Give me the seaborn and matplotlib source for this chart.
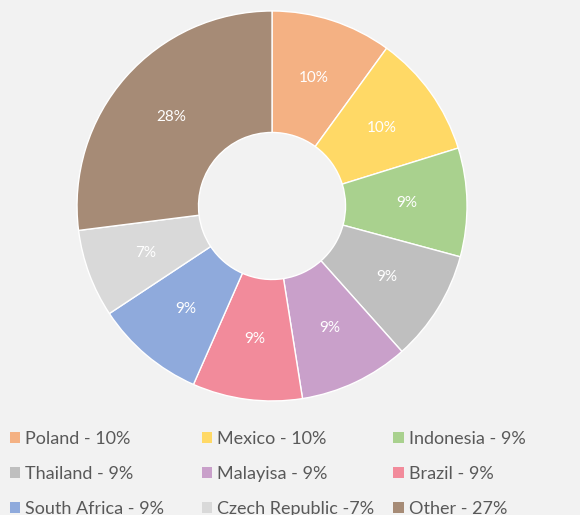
import matplotlib.pyplot as plt
import seaborn as sns
from matplotlib.patches import Patch

# udeli po zemljama (procenti)
zemlje = ["Poland", "Mexico", "Indonesia", "Thailand", "Malayisa", "Brazil",
          "South Africa", "Czech Republic", "Other"]
udeli = [10.0, 10.2, 9.0, 9.2, 9.1, 9.1, 9.1, 7.3, 27.0]
oznake = ["10%", "10%", "9%", "9%", "9%", "9%", "9%", "7%", "28%"]
legenda_tekst = ["Poland - 10%", "Mexico - 10%", "Indonesia - 9%",
                 "Thailand - 9%", "Malayisa - 9%", "Brazil - 9%",
                 "South Africa - 9%", "Czech Republic -7%", "Other - 27%"]
boje = ["#F4B183", "#FFD966", "#A9D18E", "#BFBFBF", "#C9A0CA", "#F28B9B",
        "#8FAADC", "#D9D9D9", "#A68B76"]

sns.set_theme(style="white", rc={"figure.facecolor": "#F2F2F2",
                                 "axes.facecolor": "#F2F2F2"})
plt.rcParams["font.family"] = ["Lato", "DejaVu Sans"]

fig = plt.figure(figsize=(5.8, 5.15), dpi=100)
ax = fig.add_axes([0.1328, 0.2214, 0.6724, 0.7573])

wedges, texts, autotexts = ax.pie(
    udeli, colors=boje, startangle=90, counterclock=False,
    autopct="%.0f%%", pctdistance=0.69,
    wedgeprops=dict(width=0.623, edgecolor="white", linewidth=1),
    textprops=dict(color="white", fontsize=11))
for t, s in zip(autotexts, oznake):
    t.set_text(s)
ax.set_xlim(-1, 1)
ax.set_ylim(-1, 1)
ax.set_aspect("equal")

# legenda u tri kolone, red po red
x_kolone = [0.017, 0.348, 0.678]
for k in range(3):
    idx = [k, k + 3, k + 6]
    ruke = [Patch(facecolor=boje[i], edgecolor="none") for i in idx]
    fig.legend(ruke, [legenda_tekst[i] for i in idx], loc="upper left",
               bbox_to_anchor=(x_kolone[k], 0.163), frameon=False,
               fontsize=13, labelcolor="#595959", handlelength=0.58,
               handleheight=0.58, handletextpad=0.28, labelspacing=1.04,
               borderpad=0, borderaxespad=0)

plt.savefig("out.png", dpi=100, facecolor="#F2F2F2")
plt.close()
